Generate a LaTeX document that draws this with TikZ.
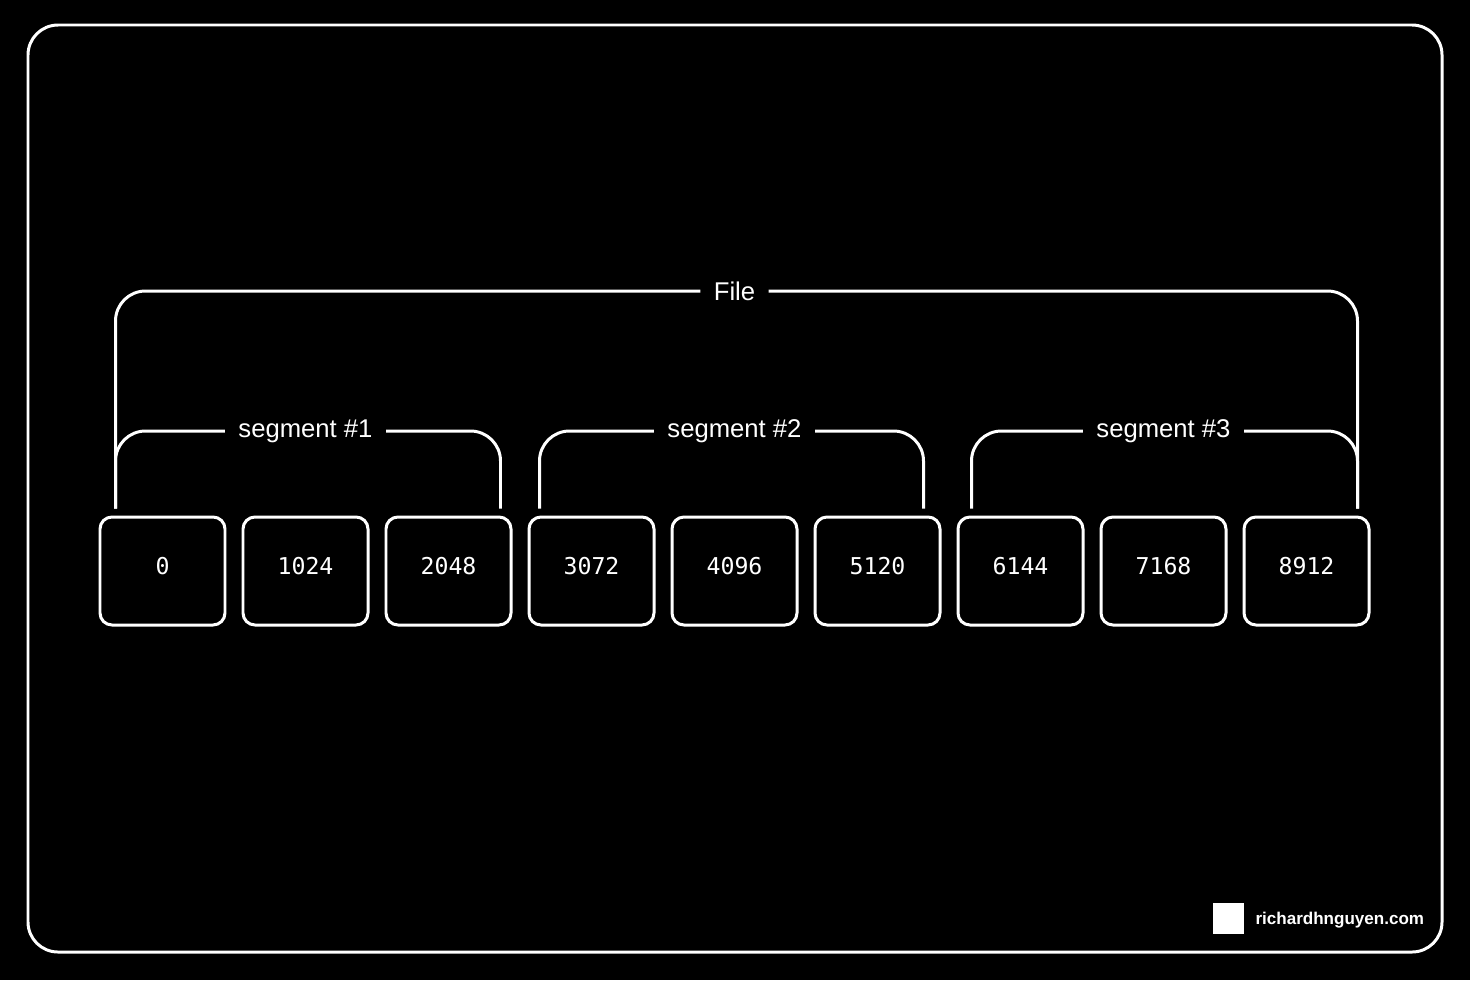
\documentclass[tikz,border=0pt]{standalone}
\usepackage{fontspec}
\setmainfont{Liberation Sans}
\setmonofont{DejaVu Sans Mono}
\begin{document}
\begin{tikzpicture}[node distance=1.43cm, line width=0.85pt, white,
    cell/.style={draw, rounded corners=0.12cm, minimum width=1.25cm, minimum height=1.08cm, text depth=0.1cm, font=\ttfamily\fontsize{6.6}{8}\selectfont},
    tag/.style={inner xsep=0.12cm, font=\fontsize{7.3}{9}\selectfont},
    brace/.style={rounded corners=0.3cm}]
    \fill[black] (0,0) rectangle (14.7,9.8);
    \draw[rounded corners=0.3cm] (0.28,0.28) rectangle (14.42,9.55);
    \node[cell] (b0) at (1.625,4.09) {0};
    \node[cell] (b1) [right of=b0] {1024};
    \node[cell] (b2) [right of=b1] {2048};
    \node[cell] (b3) [right of=b2] {3072};
    \node[cell] (b4) [right of=b3] {4096};
    \node[cell] (b5) [right of=b4] {5120};
    \node[cell] (b6) [right of=b5] {6144};
    \node[cell] (b7) [right of=b6] {7168};
    \node[cell] (b8) [right of=b7] {8912};
    \node[tag] (seg1) [above of=b1, node distance=1.4cm] {segment \#1};
    \node[tag] (seg2) [above of=b4, node distance=1.4cm] {segment \#2};
    \node[tag] (seg3) [above of=b7, node distance=1.4cm] {segment \#3};
    \node[tag] (file) [above of=b4, node distance=2.8cm] {File};
    \draw[brace] ([shift={(0.17,0.07)}]b0.north west) |- (seg1.west);
    \draw[brace] (seg1.east) -| ([shift={(-0.12,0.07)}]b2.north east);
    \draw[brace] ([shift={(0.12,0.07)}]b3.north west) |- (seg2.west);
    \draw[brace] (seg2.east) -| ([shift={(-0.18,0.07)}]b5.north east);
    \draw[brace] ([shift={(0.15,0.07)}]b6.north west) |- (seg3.west);
    \draw[brace] (seg3.east) -| ([shift={(-0.13,0.07)}]b8.north east);
    \draw[brace] ([shift={(0.17,0.07)}]b0.north west) |- (file.west);
    \draw[brace] (file.east) -| ([shift={(-0.13,0.07)}]b8.north east);
    % watermark
    \node[fill=white, minimum size=0.31cm, inner sep=0] (logo) at (12.285,0.615) {};
    \node[anchor=west, inner sep=0, font=\bfseries\fontsize{4.85}{6}\selectfont] (site) at (12.54,0.60) {richardhnguyen.com};
\end{tikzpicture}
\end{document}
